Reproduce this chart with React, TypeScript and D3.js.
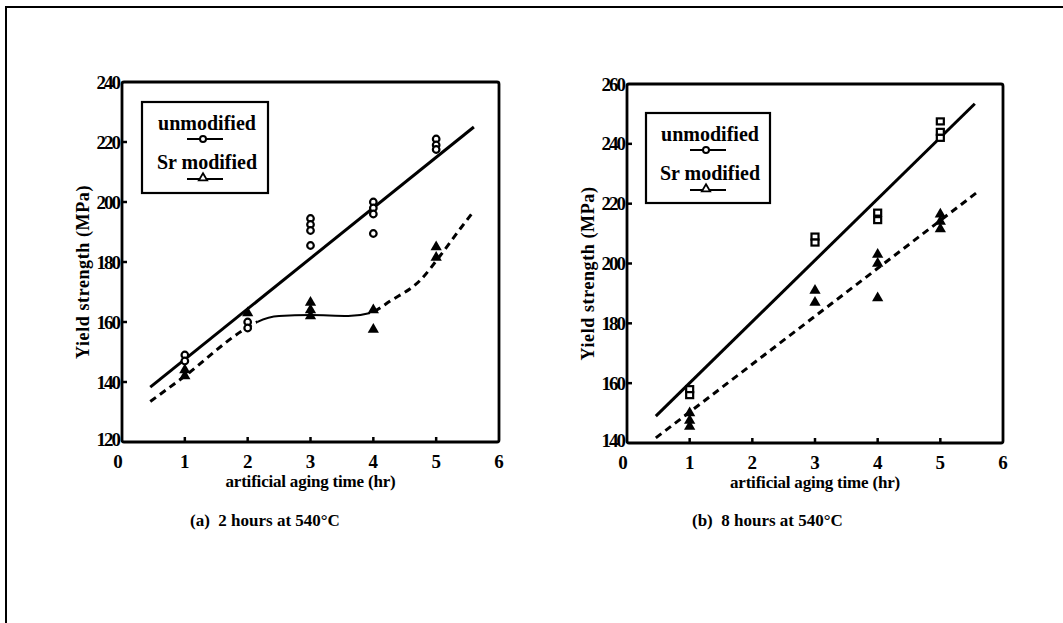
import React, { useEffect, useRef } from "react";
import * as d3 from "d3";

// x axis (hours of artificial aging)
const hours = [0, 1, 2, 3, 4, 5, 6];
const ticksA = [120, 140, 160, 180, 200, 220, 240];
const ticksB = [140, 160, 180, 200, 220, 240, 260];

// (a) 2 hours at 540°C
const unmodA = [
  { x: 1, y: 149 }, { x: 1, y: 147 },
  { x: 2, y: 160 }, { x: 2, y: 158 },
  { x: 3, y: 194.5 }, { x: 3, y: 192.5 }, { x: 3, y: 190.5 }, { x: 3, y: 185.5 },
  { x: 4, y: 200 }, { x: 4, y: 198 }, { x: 4, y: 196 }, { x: 4, y: 189.5 },
  { x: 5, y: 221 }, { x: 5, y: 219 }, { x: 5, y: 217.5 },
];
const srA = [
  { x: 1, y: 144 }, { x: 1, y: 142 },
  { x: 2, y: 163 },
  { x: 3, y: 166.5 }, { x: 3, y: 164 }, { x: 3, y: 162 },
  { x: 4, y: 164 }, { x: 4, y: 157.5 },
  { x: 5, y: 185 }, { x: 5, y: 181.5 },
];
const fitUnmodA = [{ x: 0.45, y: 138.3 }, { x: 5.6, y: 225 }];
const fitSrA = [
  { x: 0.45, y: 133.5 }, { x: 1, y: 142 }, { x: 1.93, y: 157.3 }, { x: 2.15, y: 160 },
  { x: 2.5, y: 162 }, { x: 3, y: 162.3 }, { x: 3.6, y: 162 }, { x: 3.95, y: 163 },
  { x: 4.27, y: 167 }, { x: 4.75, y: 174 }, { x: 5.06, y: 182 }, { x: 5.38, y: 191 },
  { x: 5.6, y: 197 },
];
const solidSpanA = [2.15, 3.95];

// (b) 8 hours at 540°C
const unmodB = [
  { x: 1, y: 158 }, { x: 1, y: 156 },
  { x: 3, y: 209 }, { x: 3, y: 207 },
  { x: 4, y: 217 }, { x: 4, y: 214.5 },
  { x: 5, y: 247.5 }, { x: 5, y: 244 }, { x: 5, y: 242 },
];
const srB = [
  { x: 1, y: 150 }, { x: 1, y: 147.5 }, { x: 1, y: 145.5 },
  { x: 3, y: 191 }, { x: 3, y: 187 },
  { x: 4, y: 203 }, { x: 4, y: 200 }, { x: 4, y: 188.5 },
  { x: 5, y: 216.5 }, { x: 5, y: 214 }, { x: 5, y: 211.5 },
];
const fitUnmodB = [{ x: 0.46, y: 149 }, { x: 5.55, y: 253.4 }];
const fitSrB = [{ x: 0.46, y: 141.7 }, { x: 5.6, y: 224 }];

const FONT = "'Liberation Serif', 'DejaVu Serif', serif";

function drawPanel(svg, p) {
  const x = d3.scaleLinear().domain([0, 6]).range([p.left, p.right]);
  const y = d3.scaleLinear().domain([p.ticks[0], p.ticks[p.ticks.length - 1]]).range([p.bottom, p.top]);
  const g = svg.append("g");

  g.append("rect")
    .attr("x", p.left).attr("y", p.top)
    .attr("width", p.right - p.left).attr("height", p.bottom - p.top)
    .attr("rx", 2)
    .attr("fill", "none").attr("stroke", "#000").attr("stroke-width", 2.8);

  // y ticks + labels
  p.ticks.forEach((t, i) => {
    if (i > 0 && i < p.ticks.length - 1) {
      g.append("line")
        .attr("x1", p.left).attr("x2", p.left + 5)
        .attr("y1", y(t)).attr("y2", y(t))
        .attr("stroke", "#000").attr("stroke-width", 2.5);
    }
    g.append("text")
      .attr("x", p.left - 3).attr("y", y(t) - (i === 0 ? 3 : 0))
      .attr("dy", "0.35em").attr("text-anchor", "end")
      .attr("font-family", FONT).attr("font-weight", "bold").attr("font-size", 19)
      .attr("letter-spacing", -2)
      .text(t);
  });

  // x ticks + labels
  hours.forEach((h) => {
    if (h > 0 && h < 6) {
      g.append("line")
        .attr("x1", x(h)).attr("x2", x(h))
        .attr("y1", p.bottom).attr("y2", p.bottom - 5)
        .attr("stroke", "#000").attr("stroke-width", 2.5);
    }
    g.append("text")
      .attr("x", x(h) - (h === 0 ? 4 : 0)).attr("y", p.bottom + 26)
      .attr("text-anchor", "middle")
      .attr("font-family", FONT).attr("font-weight", "bold").attr("font-size", 19)
      .text(h);
  });

  g.append("text")
    .attr("x", (p.left + p.right) / 2).attr("y", p.bottom + 45)
    .attr("text-anchor", "middle")
    .attr("font-family", FONT).attr("font-weight", "bold").attr("font-size", 17)
    .attr("letter-spacing", -0.2)
    .text("artificial aging time (hr)");

  g.append("text")
    .attr("transform", `translate(${p.left - 33},${(p.top + p.bottom) / 2 + 10}) rotate(-90)`)
    .attr("text-anchor", "middle")
    .attr("font-family", FONT).attr("font-weight", "bold").attr("font-size", 18)
    .attr("letter-spacing", 0.6)
    .text("Yield strength (MPa)");

  g.append("text")
    .attr("x", p.captionX).attr("y", 526)
    .attr("font-family", FONT).attr("font-weight", "bold").attr("font-size", 17)
    .attr("xml:space", "preserve")
    .text(p.caption);

  const line = d3.line().x((d) => x(d.x)).y((d) => y(d.y)).curve(d3.curveMonotoneX);

  // fitted lines
  g.append("path").datum(p.fitUnmod).attr("d", line)
    .attr("fill", "none").attr("stroke", "#000").attr("stroke-width", 3);

  if (p.solidSpan) {
    const id = p.id;
    const clipD = svg.append("clipPath").attr("id", id + "-dash");
    clipD.append("rect").attr("x", 0).attr("y", 0).attr("width", x(p.solidSpan[0])).attr("height", 623);
    clipD.append("rect").attr("x", x(p.solidSpan[1])).attr("y", 0).attr("width", 1063).attr("height", 623);
    const clipS = svg.append("clipPath").attr("id", id + "-solid");
    clipS.append("rect").attr("x", x(p.solidSpan[0])).attr("y", 0)
      .attr("width", x(p.solidSpan[1]) - x(p.solidSpan[0])).attr("height", 623);
    g.append("path").datum(p.fitSr).attr("d", line)
      .attr("clip-path", `url(#${id}-dash)`)
      .attr("fill", "none").attr("stroke", "#000").attr("stroke-width", 3)
      .attr("stroke-dasharray", "7 5");
    g.append("path").datum(p.fitSr).attr("d", line)
      .attr("clip-path", `url(#${id}-solid)`)
      .attr("fill", "none").attr("stroke", "#000").attr("stroke-width", 2);
  } else {
    g.append("path").datum(p.fitSr).attr("d", line)
      .attr("fill", "none").attr("stroke", "#000").attr("stroke-width", 3)
      .attr("stroke-dasharray", "7 5");
  }

  // points
  const tri = d3.symbol().type(d3.symbolTriangle).size(55);
  g.selectAll(".sr").data(p.sr).enter().append("path")
    .attr("transform", (d) => `translate(${x(d.x)},${y(d.y)})`)
    .attr("d", tri).attr("fill", "#000");

  if (p.squares) {
    g.selectAll(".un").data(p.unmod).enter().append("rect")
      .attr("x", (d) => x(d.x) - 3.5).attr("y", (d) => y(d.y) - 3)
      .attr("width", 7).attr("height", 6)
      .attr("fill", "#fff").attr("stroke", "#000").attr("stroke-width", 2.2);
  } else {
    g.selectAll(".un").data(p.unmod).enter().append("circle")
      .attr("cx", (d) => x(d.x)).attr("cy", (d) => y(d.y)).attr("r", 3.3)
      .attr("fill", "#fff").attr("stroke", "#000").attr("stroke-width", 2.2);
  }

  // legend
  const L = p.legend;
  g.append("rect")
    .attr("x", L.x).attr("y", L.y).attr("width", L.w).attr("height", L.h)
    .attr("fill", "#fff").attr("stroke", "#000").attr("stroke-width", 2.2);
  const cx = L.x + L.w / 2;
  const rows = [
    { label: "unmodified", dy: 28, my: 37, sym: "o" },
    { label: "Sr modified", dy: 67, my: 77, sym: "t" },
  ];
  rows.forEach((r) => {
    g.append("text")
      .attr("x", cx + 2).attr("y", L.y + r.dy)
      .attr("text-anchor", "middle")
      .attr("font-family", FONT).attr("font-weight", "bold").attr("font-size", 20)
      .attr("letter-spacing", 0)
      .text(r.label);
    g.append("line")
      .attr("x1", cx - 18).attr("x2", cx + 18)
      .attr("y1", L.y + r.my).attr("y2", L.y + r.my)
      .attr("stroke", "#000").attr("stroke-width", 2.2);
    if (r.sym === "o") {
      g.append("circle").attr("cx", cx - 2).attr("cy", L.y + r.my).attr("r", 3)
        .attr("fill", "#fff").attr("stroke", "#000").attr("stroke-width", 2);
    } else {
      g.append("path")
        .attr("transform", `translate(${cx - 2},${L.y + r.my - 1})`)
        .attr("d", d3.symbol().type(d3.symbolTriangle).size(30))
        .attr("fill", "#fff").attr("stroke", "#000").attr("stroke-width", 1.8);
    }
  });
}

export default function App() {
  const ref = useRef(null);

  useEffect(() => {
    const svg = d3.select(ref.current);
    svg.selectAll("*").remove();

    // outer frame (top and left edges only)
    svg.append("path")
      .attr("d", "M6,623 L6,7 L1063,7")
      .attr("fill", "none").attr("stroke", "#000").attr("stroke-width", 2);

    drawPanel(svg, {
      id: "pa", left: 122, right: 499, top: 82, bottom: 442,
      ticks: ticksA, unmod: unmodA, sr: srA,
      fitUnmod: fitUnmodA, fitSr: fitSrA, solidSpan: solidSpanA,
      squares: false,
      legend: { x: 142, y: 102, w: 126, h: 91 },
      caption: "(a)  2 hours at 540°C", captionX: 190,
    });
    drawPanel(svg, {
      id: "pb", left: 627, right: 1003, top: 84, bottom: 443,
      ticks: ticksB, unmod: unmodB, sr: srB,
      fitUnmod: fitUnmodB, fitSr: fitSrB, solidSpan: null,
      squares: true,
      legend: { x: 646, y: 113, w: 124, h: 90 },
      caption: "(b)  8 hours at 540°C", captionX: 692,
    });
  }, []);

  return (
    <svg
      ref={ref}
      width={1063}
      height={623}
      style={{ position: "absolute", left: 0, top: 0, background: "#fff" }}
    />
  );
}
